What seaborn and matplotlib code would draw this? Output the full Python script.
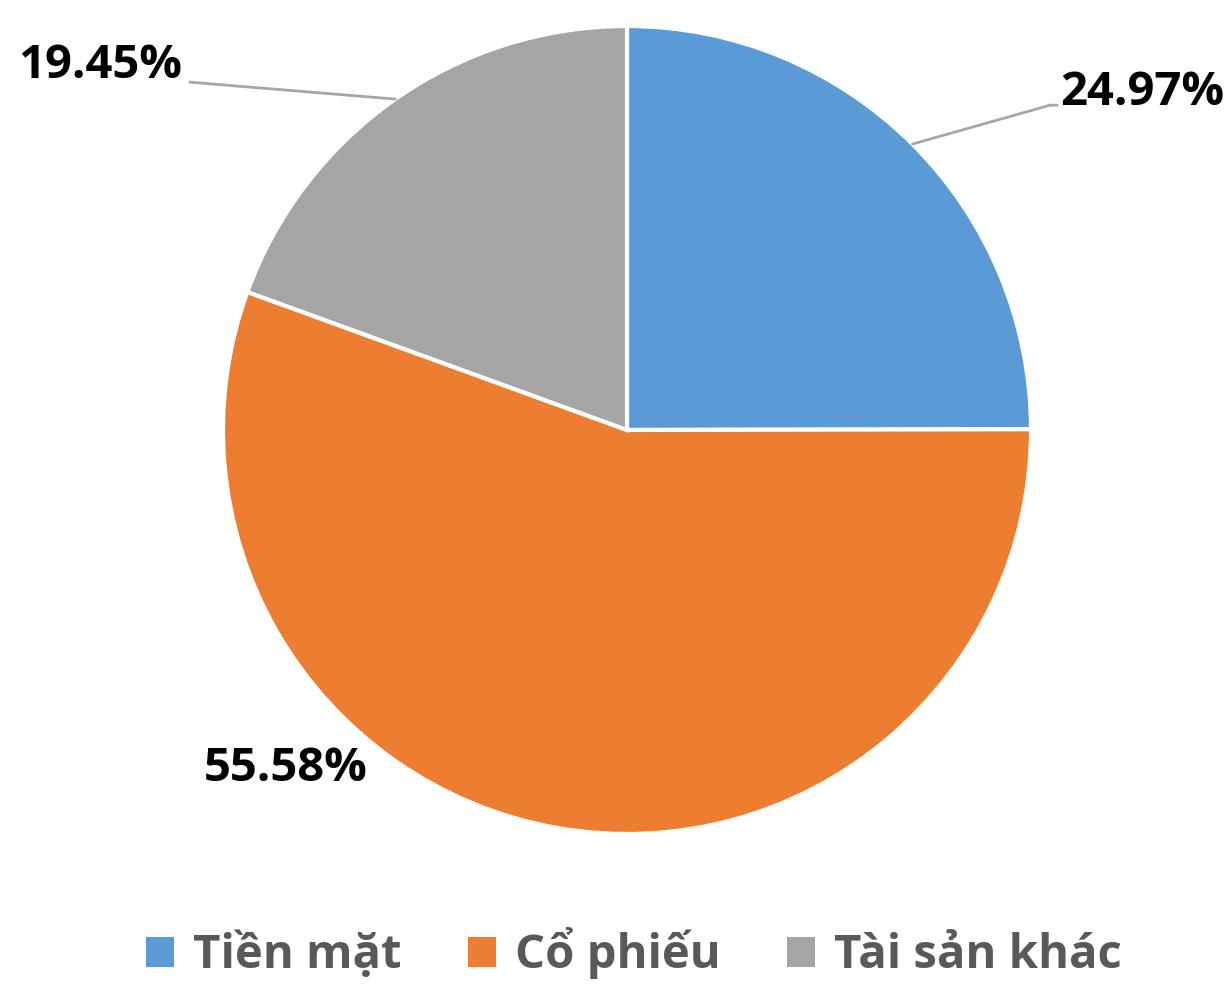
import matplotlib
matplotlib.use("Agg")
import matplotlib.pyplot as plt
import numpy as np
import seaborn as sns
from matplotlib.patches import Patch

sns.set_style("white")
plt.rcParams['font.family'] = ['Open Sans', 'DejaVu Sans']

# 数据
categories = ["Tiền mặt", "Cổ phiếu", "Tài sản khác"]
values = [24.97, 55.58, 19.45]
colors = ["#5B9BD5", "#ED7D31", "#A5A5A5"]

# label placement (data units, radius = 1)
label_pos = [(1.072, 0.835), (-0.844, -0.837), (-1.101, 0.903)]
label_ha = ["left", "center", "right"]
leader_end = [[(1.047, 0.804), (1.065, 0.804)], None, [(-1.082, 0.861)]]

W, H = 1228, 985
fig = plt.figure(figsize=(W / 100, H / 100), dpi=100)
cx, cy, r = 627, 430, 404
ax = fig.add_axes([(cx - r) / W, (H - cy - r) / H, 2 * r / W, 2 * r / H])

wedges, _ = ax.pie(values, colors=colors, startangle=90, counterclock=False,
                   wedgeprops=dict(edgecolor="white", linewidth=3))
ax.set_xlim(-1, 1)
ax.set_ylim(-1, 1)
ax.set_aspect("equal")
ax.axis("off")

for i, w in enumerate(wedges):
    mid = np.deg2rad((w.theta1 + w.theta2) / 2)
    sx, sy = np.cos(mid), np.sin(mid)
    if leader_end[i] is not None:
        pts = [(sx, sy)] + leader_end[i]
        xs, ys = zip(*pts)
        ax.plot(xs, ys, color="#A6A6A6", lw=2, clip_on=False)
    tx, ty = label_pos[i]
    ax.text(tx, ty, f"{values[i]:.2f}%", ha=label_ha[i], va="center",
            fontsize=34, fontweight="bold", color="black")

handles = [Patch(facecolor=c, edgecolor="none") for c in colors]
leg = fig.legend(handles, categories, loc="center", bbox_to_anchor=(0.516, 0.032),
                 ncol=3, frameon=False, fontsize=34, handlelength=0.6, handleheight=0.6,
                 handletextpad=0.4, columnspacing=1.4)
for t in leg.get_texts():
    t.set_color("#595959")
    t.set_fontweight("bold")

fig.savefig("out.png", dpi=100)
